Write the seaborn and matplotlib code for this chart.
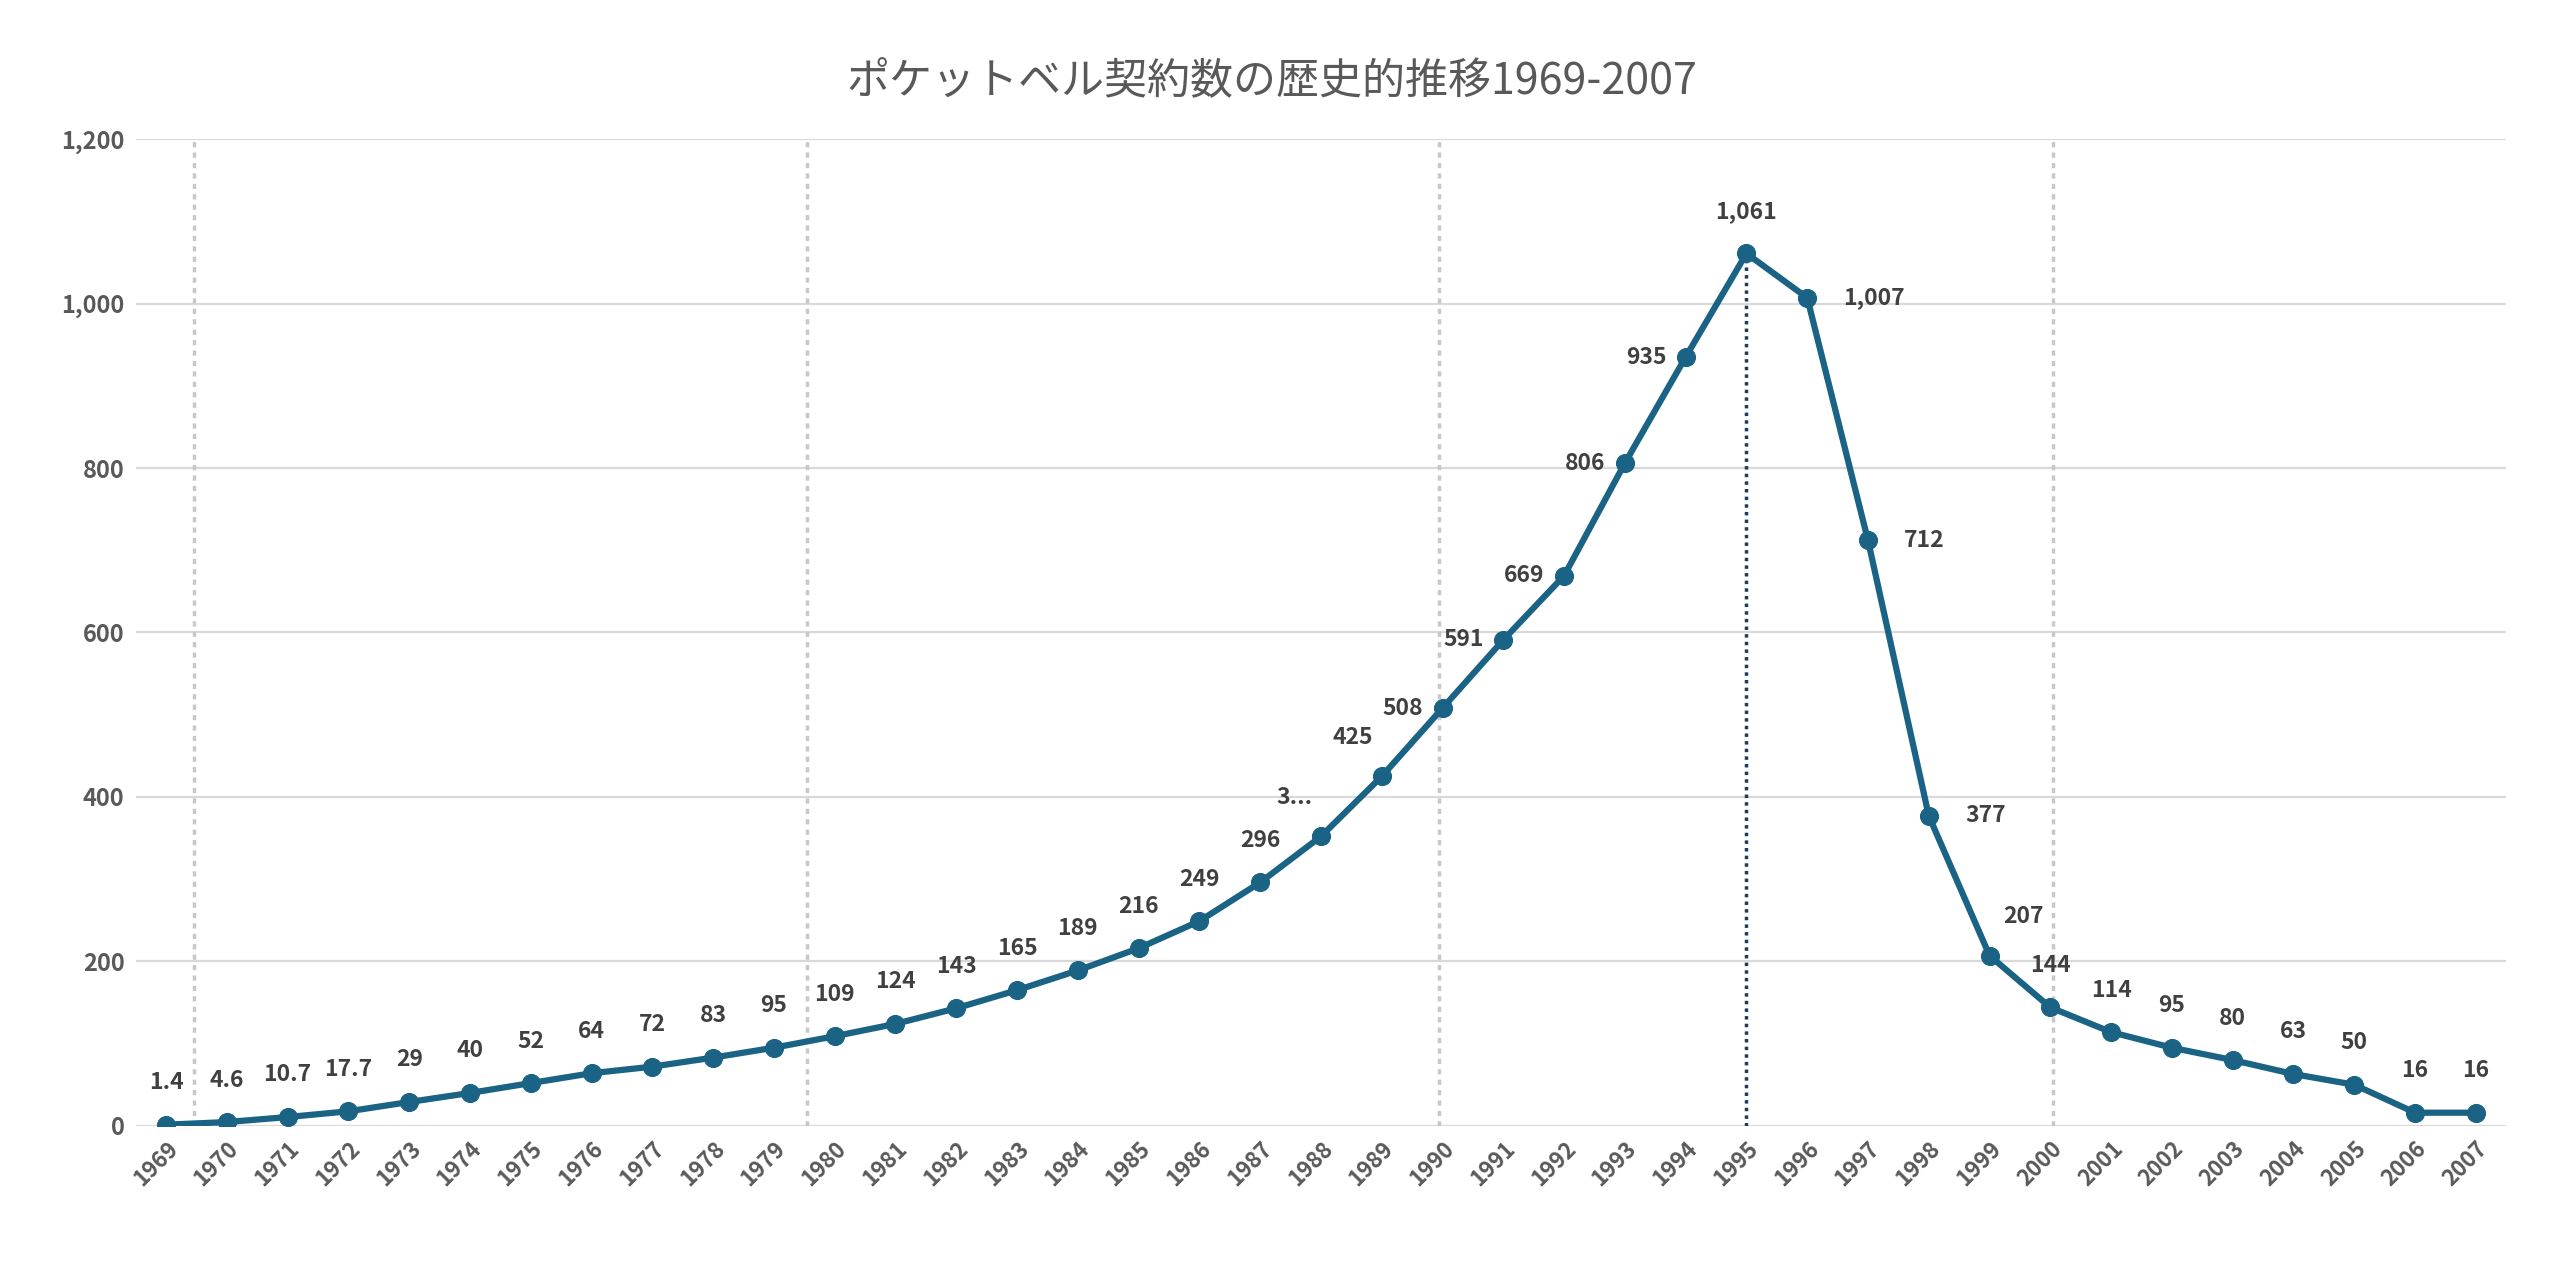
import matplotlib
matplotlib.use("Agg")
import matplotlib.pyplot as plt
import seaborn as sns
import pandas as pd

years = list(range(1969, 2008))
values = [1.4, 4.6, 10.7, 17.7, 29, 40, 52, 64, 72, 83, 95, 109, 124, 143, 165, 189, 216, 249, 296,
          352, 425, 508, 591, 669, 806, 935, 1061, 1007, 712, 377, 207, 144, 114, 95, 80, 63, 50, 16, 16]
labels = ["1.4", "4.6", "10.7", "17.7", "29", "40", "52", "64", "72", "83", "95", "109", "124", "143",
          "165", "189", "216", "249", "296", "3...", "425", "508", "591", "669", "806", "935", "1,061",
          "1,007", "712", "377", "207", "144", "114", "95", "80", "63", "50", "16", "16"]
# label placement: 'a' above, 'l' left, 'r' right, 'ar' above-right, 'al' above-left
placement = ["a"] * 19 + ["al", "al", "l", "l", "l", "l", "l", "a", "r", "r", "r", "ar", "a"] + ["a"] * 7
gray_vlines = [0.46, 10.55, 20.95, 31.05]
peak_idx = 26

sns.set_theme(style="white")
plt.rcParams['font.family'] = ['Noto Sans CJK JP', 'DejaVu Sans']

df = pd.DataFrame({"x": range(len(years)), "v": values})
fig = plt.figure(figsize=(25.6, 12.65), dpi=100)
ax = fig.add_axes([0.053, 0.11, 0.926, 0.78])
color = "#1a6385"
for xv in gray_vlines:
    ax.axvline(xv, color="#c8c8c8", lw=2.5, ls=(0, (1.5, 1.5)), zorder=1)
for yv in range(200, 1201, 200):
    ax.axhline(yv, color="#d9d9d9", lw=1.6, zorder=0)
ax.axhline(0, color="#d9d9d9", lw=1.6, zorder=0)
ax.plot([peak_idx, peak_idx], [0, values[peak_idx]], color="#1f3b5c", lw=2.5, ls=(0, (1, 1.2)), zorder=2)
sns.lineplot(data=df, x="x", y="v", ax=ax, color=color, lw=4.5, marker="o", markersize=13,
             markeredgecolor=color, zorder=3)

offs = {"a": (0, 22, "center", "bottom"), "l": (-14, 0, "right", "center"),
        "r": (26, 0, "left", "center"), "ar": (10, 20, "left", "bottom"),
        "al": (-6, 20, "right", "bottom")}
for i, (v, lab, p) in enumerate(zip(values, labels, placement)):
    dx, dy, ha, va = offs[p]
    ax.annotate(lab, (i, v), xytext=(dx, dy), textcoords="offset points", ha=ha, va=va,
                fontsize=16.5, fontweight="bold", color="#404040", zorder=4)

ax.set_xlim(-0.5, 38.5)
ax.set_ylim(0, 1200)
ax.set_yticks(range(0, 1201, 200))
ax.set_yticklabels([f"{t:,}" for t in range(0, 1201, 200)], fontsize=17, fontweight="bold", color="#595959")
ax.set_xticks(range(len(years)))
ax.set_xticklabels([str(y) for y in years], rotation=45, ha="right", rotation_mode="anchor",
                   fontsize=16, fontweight="bold", color="#595959")
ax.tick_params(axis="both", length=0, pad=8)
ax.set_xlabel("")
ax.set_ylabel("")
for s in ax.spines.values():
    s.set_visible(False)
fig.text(0.497, 0.935, "ポケットベル契約数の歴史的推移1969-2007", ha="center", va="center",
         fontsize=31, color="#595959")
fig.savefig("out.png", dpi=100, facecolor="white")
